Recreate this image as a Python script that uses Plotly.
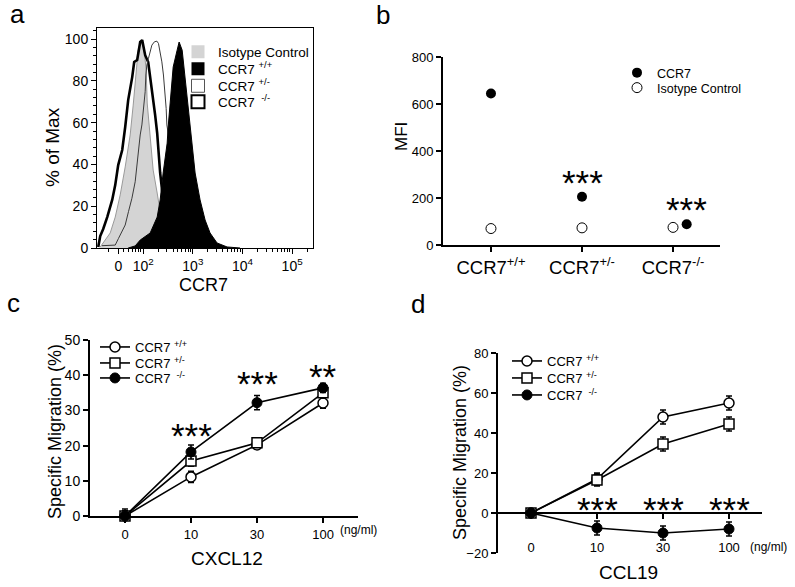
import math
import plotly.graph_objects as go

W, H = 795, 587
FONT = "Arial, Liberation Sans, Helvetica, sans-serif"

# ---------------- Panel a : flow histograms (x in logicle display units, y in % of max)
iso_x = [1.135, 1.235, 1.336, 1.437, 1.537, 1.638, 1.738, 1.799, 1.839, 1.879, 1.899, 1.940, 1.980,
         2.020, 2.060, 2.081, 2.141, 2.201, 2.282, 2.342, 2.402, 2.483, 2.584]
iso_y = [0.5, 3.8, 7.2, 14.8, 25.4, 38.8, 54.1, 68.4, 78.0, 86.6, 94.7, 97.1, 98.1,
         94.7, 85.2, 69.4, 53.1, 37.3, 26.3, 16.7, 8.6, 2.4, 0]

ko_x = [1.095, 1.135, 1.195, 1.276, 1.376, 1.437, 1.497, 1.578, 1.638, 1.698, 1.779, 1.819, 1.879,
        1.940, 1.980, 2.040, 2.101, 2.181, 2.241, 2.282, 2.342, 2.402, 2.443, 2.503, 2.584]
ko_y = [0.5, 5.7, 9.1, 14.8, 23.0, 30.1, 39.7, 46.9, 57.9, 70.8, 81.8, 89.0, 90.0,
        98.6, 99.5, 92.3, 89.0, 75.6, 63.6, 55.0, 35.9, 23.0, 11.0, 2.4, 0]

het_x = [1.169, 1.437, 1.503, 1.638, 1.704, 1.773, 1.839, 1.873, 1.905, 1.940, 1.974, 2.006, 2.040,
         2.054, 2.074, 2.107, 2.141, 2.175, 2.227, 2.276, 2.308, 2.342, 2.376, 2.408, 2.443, 2.463,
         2.477, 2.509, 2.644, 2.744, 2.845, 2.946]
het_y = [1.1, 1.4, 4.6, 11.0, 17.4, 23.8, 31.7, 39.7, 46.1, 54.1, 58.9, 66.8, 74.8,
         82.8, 87.6, 90.8, 93.9, 97.1, 98.7, 99.0, 97.9, 93.9, 89.1, 82.8, 74.8, 66.8,
         58.9, 54.1, 37.3, 18.2, 3.8, 0]

wt_x = [1.698, 1.839, 1.940, 2.141, 2.282, 2.342, 2.402, 2.483, 2.503, 2.543, 2.604, 2.684, 2.724,
        2.785, 2.845, 2.905, 2.986, 3.046, 3.146, 3.247, 3.347, 3.488, 3.690, 3.951]
wt_y = [0, 1.0, 3.8, 7.2, 14.8, 23.0, 35.9, 50.2, 57.9, 70.8, 86.6, 94.7, 98.6,
        94.7, 81.8, 66.0, 50.2, 35.9, 23.0, 13.4, 7.2, 2.4, 0.5, 0]

a_tickvals = [1.5, 2, 3, 4, 5]
a_ticktext = ["0", "10<sup>2</sup>", "10<sup>3</sup>", "10<sup>4</sup>", "10<sup>5</sup>"]
a_legend = ["Isotype Control", "CCR7 <sup>+/+</sup>", "CCR7 <sup>+/-</sup>", "CCR7 <sup> -/-</sup>"]

# ---------------- Panel b : MFI
b_labels = ["CCR7<sup>+/+</sup>", "CCR7<sup>+/-</sup>", "CCR7<sup>-/-</sup>"]
b_cat_pos = [0, 1, 2]
b_ccr7_pos = [0, 1, 2.15]
b_ccr7 = [645, 205, 88]
b_iso = [70, 73, 75]
b_stars = ["", "***", "***"]
b_star_y = [None, 285, 168]

# ---------------- Panels c & d : migration
doses = ["0", "10", "30", "100"]
dose_pos = [0, 1, 2, 3]

c_wt = [0, 11.1, 20.2, 32.1]
c_wt_err = [1.5, 1.6, 1.0, 1.5]
c_het = [0, 15.6, 20.8, 35.0]
c_het_err = [1.5, 1.5, 1.2, 1.5]
c_ko = [0, 18.2, 32.2, 36.4]
c_ko_err = [2.0, 2.0, 2.0, 1.3]
c_stars = ["", "***", "***", "**"]
c_star_y = [None, 24.0, 38.9, 40.9]

d_wt = [0, 17.0, 48.0, 55.0]
d_wt_err = [2.0, 3.0, 3.5, 3.5]
d_het = [0, 16.5, 34.5, 44.5]
d_het_err = [2.0, 3.0, 3.5, 3.5]
d_ko = [0, -7.5, -10.0, -8.0]
d_ko_err = [2.0, 3.5, 3.5, 3.5]
d_stars = ["", "***", "***", "***"]
d_star_y = [None, 4.0, 4.0, 4.0]

series_names = ["CCR7 <sup>+/+</sup>", "CCR7 <sup>+/-</sup>", "CCR7 <sup> -/-</sup>"]


def px(x):
    return x / W


def py(y):
    return 1 - y / H


fig = go.Figure()
legend_layout = {}
legend_common = dict(bgcolor="rgba(0,0,0,0)", borderwidth=0, tracegroupgap=0,
                     itemclick=False, itemdoubleclick=False, xanchor="left", yanchor="middle",
                     itemwidth=30)
leg_counter = [0]


def new_legend(x_px, y_px, size):
    leg_counter[0] += 1
    key = "legend" if leg_counter[0] == 1 else "legend%d" % leg_counter[0]
    legend_layout[key] = dict(legend_common, x=px(x_px), y=py(y_px),
                              font=dict(family=FONT, size=size, color="black"))
    return key


# ---- Panel a traces
fig.add_trace(go.Scatter(x=iso_x, y=iso_y, mode="lines", fill="tozeroy", fillcolor="#d4d4d4",
                         line=dict(color="#9a9a9a", width=1), xaxis="x", yaxis="y", showlegend=False))
fig.add_trace(go.Scatter(x=ko_x, y=ko_y, mode="lines", line=dict(color="black", width=2.6),
                         xaxis="x", yaxis="y", showlegend=False))
fig.add_trace(go.Scatter(x=het_x, y=het_y, mode="lines", line=dict(color="#3a3a3a", width=1),
                         xaxis="x", yaxis="y", showlegend=False))
fig.add_trace(go.Scatter(x=wt_x, y=wt_y, mode="lines", fill="tozeroy", fillcolor="black",
                         line=dict(color="black", width=1), xaxis="x", yaxis="y", showlegend=False))
# legend swatches for panel a
a_sw = [dict(color="#d4d4d4", line=dict(color="#d4d4d4", width=0)),
        dict(color="black", line=dict(color="black", width=0)),
        dict(color="white", line=dict(color="#555555", width=1)),
        dict(color="white", line=dict(color="black", width=2))]
a_rows = [52, 69, 86, 102]
for name, mk, ry in zip(a_legend, a_sw, a_rows):
    lg = new_legend(178, ry, 13.5)
    fig.add_trace(go.Scatter(x=[None], y=[None], mode="markers", name=name,
                             marker=dict(symbol="square", size=13, **mk),
                             xaxis="x", yaxis="y", legend=lg))

# ---- Panel b traces
lg = new_legend(617, 73, 12.5)
fig.add_trace(go.Scatter(x=b_ccr7_pos, y=b_ccr7, mode="markers", name="CCR7",
                         marker=dict(symbol="circle", size=10, color="black"),
                         xaxis="x2", yaxis="y2", legend=lg, cliponaxis=False))
lg = new_legend(617, 88, 12.5)
fig.add_trace(go.Scatter(x=b_cat_pos, y=b_iso, mode="markers", name="Isotype Control",
                         marker=dict(symbol="circle", size=10, color="white",
                                     line=dict(color="black", width=1)),
                         xaxis="x2", yaxis="y2", legend=lg, cliponaxis=False))


# ---- Panels c, d traces
def add_series(vals, errs, marker, name, xa, ya, leg):
    fig.add_trace(go.Scatter(
        x=dose_pos, y=vals, mode="lines+markers", name=name,
        line=dict(color="black", width=1.6),
        marker=marker,
        error_y=dict(type="data", array=errs, color="black", thickness=1.5, width=3),
        xaxis=xa, yaxis=ya, legend=leg, cliponaxis=False))


mk_open_c = dict(symbol="circle", size=10, color="white", line=dict(color="black", width=1.5))
mk_open_s = dict(symbol="square", size=10, color="white", line=dict(color="black", width=1.5))
mk_fill = dict(symbol="circle", size=10, color="black", line=dict(color="black", width=1))

c_rows = [347, 363, 378]
add_series(c_wt, c_wt_err, mk_open_c, series_names[0], "x3", "y3", new_legend(95, c_rows[0], 13))
add_series(c_het, c_het_err, mk_open_s, series_names[1], "x3", "y3", new_legend(95, c_rows[1], 13))
add_series(c_ko, c_ko_err, mk_fill, series_names[2], "x3", "y3", new_legend(95, c_rows[2], 13))

d_rows = [361, 378, 395]
add_series(d_wt, d_wt_err, mk_open_c, series_names[0], "x4", "y4", new_legend(507, d_rows[0], 13))
add_series(d_het, d_het_err, mk_open_s, series_names[1], "x4", "y4", new_legend(507, d_rows[1], 13))
add_series(d_ko, d_ko_err, mk_fill, series_names[2], "x4", "y4", new_legend(507, d_rows[2], 13))

# ---------------- Axes
axis_common = dict(showgrid=False, zeroline=False, linecolor="black", tickcolor="black",
                   ticks="outside", automargin=False,
                   tickfont=dict(family=FONT, size=14, color="black"))

d_dom = [py(553), py(353)]
d_yr = [-20, 80]
d_zero_pos = d_dom[0] + (0 - d_yr[0]) / (d_yr[1] - d_yr[0]) * (d_dom[1] - d_dom[0])

a_minor = [d + math.log10(k) for d in range(1, 6) for k in range(2, 10)
           if 1.08 < d + math.log10(k) < 5.42 and abs(d + math.log10(k) - 1.5) > 0.05]

fig.update_layout(
    xaxis=dict(axis_common, domain=[px(97), px(313)], range=[1.07, 5.42], anchor="y",
               showline=True, mirror=True, linewidth=1, tickvals=a_tickvals, ticktext=a_ticktext,
               ticklen=5, tickwidth=1,
               minor=dict(tickvals=a_minor, ticks="outside", ticklen=3, tickcolor="black")),
    yaxis=dict(axis_common, domain=[py(248), py(28)], range=[0, 105.3], anchor="x",
               showline=True, mirror=True, linewidth=1, dtick=20, ticklen=5, tickwidth=1,
               minor=dict(dtick=4, ticks="outside", ticklen=3, tickcolor="black")),
    xaxis2=dict(axis_common, domain=[px(443), px(720)], range=[-0.527, 2.516], anchor="y2",
                showline=True, linewidth=2, tickvals=b_cat_pos, ticktext=b_labels,
                ticklen=5, tickwidth=2, tickfont=dict(family=FONT, size=18.5, color="black")),
    yaxis2=dict(axis_common, domain=[py(245), py(57)], range=[0, 800], anchor="x2",
                showline=True, linewidth=2, dtick=200, ticklen=5, tickwidth=2,
                tickfont=dict(family=FONT, size=13, color="black")),
    xaxis3=dict(axis_common, domain=[px(90), px(358)], range=[-0.53, 3.53], anchor="y3",
                showline=True, linewidth=2, tickvals=dose_pos, ticktext=doses,
                ticklen=5, tickwidth=2, tickfont=dict(family=FONT, size=13, color="black")),
    yaxis3=dict(axis_common, domain=[py(516), py(340)], range=[0, 50], anchor="x3",
                showline=True, linewidth=2, dtick=10, ticklen=5, tickwidth=2,
                tickfont=dict(family=FONT, size=14, color="black")),
    xaxis4=dict(axis_common, domain=[px(498), px(762)], range=[-0.5, 3.5], anchor="free",
                position=d_zero_pos,
                showline=True, linewidth=2, tickvals=dose_pos, ticktext=doses,
                ticklen=5, tickwidth=2, ticklabelstandoff=17,
                tickfont=dict(family=FONT, size=13, color="black")),
    yaxis4=dict(axis_common, domain=d_dom, range=d_yr, anchor="x4",
                showline=True, linewidth=2, dtick=20, ticklen=5, tickwidth=2,
                tickfont=dict(family=FONT, size=13, color="black")),
)

fig.update_layout(**legend_layout)

ann = []


def txt(x, y, s, size, angle=0, xref="paper", yref="paper", yshift=0, xanchor="center"):
    ann.append(dict(x=x, y=y, xref=xref, yref=yref, text=s, showarrow=False, textangle=angle,
                    font=dict(family=FONT, size=size, color="black"), xanchor=xanchor,
                    yanchor="middle", yshift=yshift))


# panel letters
txt(px(17), py(14), "a", 26)
txt(px(383), py(15), "b", 26)
txt(px(13), py(303), "c", 26)
txt(px(418), py(304), "d", 26)
# axis titles
txt(px(53), py(147), "% of Max", 19, angle=-90)
txt(px(203), py(285), "CCR7", 18)
txt(px(402), py(137), "MFI", 17, angle=-90)
txt(px(55), py(432), "Specific Migration (%)", 18, angle=-90)
txt(px(227), py(558), "CXCL12", 19)
txt(px(460), py(453), "Specific Migration (%)", 18, angle=-90)
txt(px(628), py(572), "CCL19", 19)
txt(px(358), py(530), "(ng/ml)", 12)
txt(px(768), py(547), "(ng/ml)", 12)

# significance stars
STAR = 35
SHIFT = -4
for xpos, s, yv in zip(b_ccr7_pos, b_stars, b_star_y):
    if s:
        txt(xpos, yv, s, STAR, xref="x2", yref="y2", yshift=SHIFT)
for xpos, s, yv in zip(dose_pos, c_stars, c_star_y):
    if s:
        txt(xpos, yv, s, STAR, xref="x3", yref="y3", yshift=SHIFT)
for xpos, s, yv in zip(dose_pos, d_stars, d_star_y):
    if s:
        txt(xpos, yv, s, STAR, xref="x4", yref="y4", yshift=SHIFT)

fig.update_layout(
    annotations=ann,
    width=W, height=H,
    margin=dict(l=0, r=0, t=0, b=0, autoexpand=False),
    paper_bgcolor="white", plot_bgcolor="rgba(0,0,0,0)",
    font=dict(family=FONT, color="black"),
    showlegend=True,
)

fig.write_html("out.html",
               config={"displayModeBar": False},
               post_script="document.body.style.margin='0px';"
                           "document.body.style.overflow='hidden';")
